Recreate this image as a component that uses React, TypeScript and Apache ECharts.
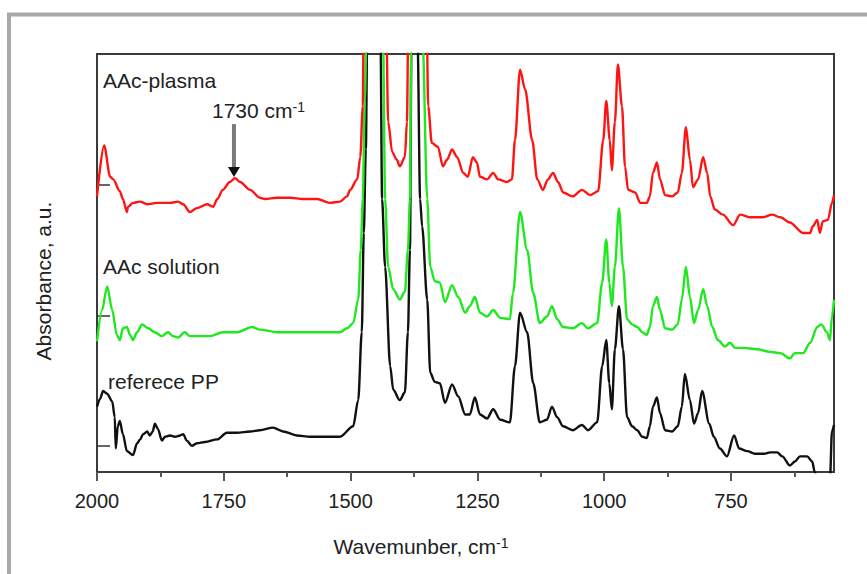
import React, { useEffect, useRef } from "react";
import * as echarts from "echarts";

// Tick positions (cm-1) and baseline ticks (a.u.)
const xMajorTicks = [2000, 1750, 1500, 1250, 1000, 750];
const xMinorTicks = [1875, 1625, 1375, 1125, 875, 625];
const baselineTicks = [0, 1, 2];
const xRange = [547, 2000];
const yRange = [-0.2, 3.0];

const seriesNames = ["AAc-plasma", "AAc solution", "referece PP"];
const seriesColors = ["#ff1414", "#1ee81e", "#111111"];
const peakMark = [1730, 2.05];

// [wavenumber cm-1, absorbance a.u. (offset stacked)]
const aacPlasma = [
  [2000, 1.91], [1986, 2.3], [1974, 2.06], [1968, 2.04], [1955, 1.95], [1949, 1.89], [1941, 1.79], [1939, 1.83],
  [1929, 1.86], [1915, 1.87], [1901, 1.85], [1882, 1.86], [1856, 1.86], [1840, 1.87], [1830, 1.85], [1817, 1.79],
  [1803, 1.82], [1783, 1.85], [1771, 1.83], [1763, 1.89], [1752, 1.96], [1738, 2.02], [1728, 2.05], [1718, 2.02],
  [1698, 1.96], [1679, 1.9], [1669, 1.89], [1645, 1.9], [1619, 1.9], [1594, 1.89], [1566, 1.89], [1541, 1.86],
  [1521, 1.87], [1507, 1.91], [1501, 1.96], [1487, 2.04], [1481, 2.21], [1476, 2.6], [1474, 3.3], [1452, 4.5],
  [1430, 3.3], [1426, 2.48], [1418, 2.25], [1409, 2.19], [1403, 2.14], [1393, 2.21], [1389, 2.48], [1386, 3.3],
  [1370, 4.3], [1350, 3.2], [1347, 2.6], [1340, 2.32], [1328, 2.29], [1318, 2.14], [1310, 2.19], [1300, 2.27],
  [1290, 2.21], [1278, 2.09], [1269, 2.06], [1259, 2.21], [1251, 2.17], [1245, 2.06], [1231, 2.04], [1219, 2.09],
  [1209, 2.04], [1192, 2.02], [1182, 2.04], [1176, 2.34], [1166, 2.88], [1156, 2.73], [1142, 2.34], [1132, 2.04],
  [1121, 1.96], [1111, 2.04], [1101, 2.09], [1091, 2.02], [1081, 1.94], [1062, 1.91], [1044, 1.96], [1028, 1.92],
  [1012, 1.95], [1002, 2.34], [996, 2.64], [989, 2.34], [985, 2.11], [979, 2.48], [973, 2.92], [965, 2.6],
  [959, 2.14], [953, 1.96], [939, 1.94], [929, 1.86], [916, 1.86], [910, 1.91], [904, 2.09], [896, 2.17],
  [890, 2.04], [880, 1.92], [866, 1.91], [855, 1.94], [847, 2.09], [839, 2.44], [831, 2.19], [825, 1.98],
  [815, 2.04], [805, 2.21], [797, 2.09], [791, 1.91], [782, 1.81], [766, 1.77], [746, 1.69], [732, 1.77],
  [713, 1.75], [687, 1.75], [669, 1.77], [653, 1.75], [634, 1.71], [608, 1.63], [594, 1.63], [589, 1.68],
  [580, 1.73], [575, 1.63], [569, 1.72], [559, 1.73], [551, 1.86], [547, 1.92],
];

const aacSolution = [
  [2000, 0.8], [1990, 1.04], [1980, 1.22], [1970, 1.04], [1961, 0.85], [1955, 0.81], [1949, 0.9], [1941, 0.91],
  [1935, 0.85], [1929, 0.81], [1921, 0.87], [1911, 0.93], [1899, 0.9], [1886, 0.87], [1872, 0.84], [1860, 0.87],
  [1850, 0.84], [1840, 0.83], [1827, 0.87], [1817, 0.84], [1797, 0.84], [1777, 0.84], [1752, 0.87], [1724, 0.87],
  [1694, 0.91], [1679, 0.89], [1645, 0.87], [1619, 0.87], [1580, 0.87], [1554, 0.87], [1521, 0.87], [1507, 0.9],
  [1495, 0.94], [1485, 1.12], [1480, 1.5], [1476, 1.89], [1472, 2.65], [1468, 3.3], [1452, 4.5], [1436, 3.1],
  [1432, 1.89], [1426, 1.37], [1416, 1.2], [1403, 1.12], [1393, 1.18], [1387, 1.5], [1383, 1.89], [1380, 3.3],
  [1370, 4.5], [1358, 3.1], [1349, 1.89], [1343, 1.37], [1334, 1.26], [1324, 1.25], [1314, 1.1], [1300, 1.23],
  [1288, 1.14], [1274, 1.02], [1265, 1.07], [1255, 1.14], [1245, 1.02], [1231, 0.99], [1219, 1.04], [1205, 0.98],
  [1186, 0.97], [1180, 1.17], [1166, 1.79], [1152, 1.5], [1140, 1.17], [1127, 0.94], [1113, 0.99], [1103, 1.07],
  [1093, 0.97], [1081, 0.91], [1062, 0.9], [1044, 0.94], [1032, 0.9], [1014, 0.94], [1004, 1.25], [996, 1.58],
  [990, 1.25], [985, 1.07], [979, 1.37], [971, 1.82], [963, 1.37], [955, 0.97], [945, 0.93], [935, 0.91],
  [925, 0.87], [916, 0.85], [910, 0.91], [904, 1.07], [896, 1.14], [890, 1.04], [880, 0.9], [866, 0.89],
  [855, 0.93], [847, 1.12], [839, 1.37], [831, 1.14], [823, 0.94], [815, 1.04], [805, 1.2], [797, 1.07],
  [787, 0.91], [776, 0.81], [762, 0.76], [752, 0.79], [742, 0.75], [726, 0.75], [699, 0.74], [673, 0.72],
  [653, 0.71], [634, 0.67], [624, 0.71], [608, 0.71], [594, 0.79], [580, 0.91], [572, 0.93], [561, 0.87],
  [555, 0.81], [551, 0.99], [547, 1.12],
];

const referencePP = [
  [2000, 0.3], [1994, 0.36], [1988, 0.42], [1980, 0.4], [1970, 0.34], [1965, 0.22], [1963, -0.02], [1959, 0.15],
  [1955, 0.19], [1949, 0.09], [1941, -0.04], [1929, -0.07], [1921, 0.02], [1915, 0.05], [1909, 0.09], [1901, 0.11],
  [1896, 0.08], [1890, 0.11], [1886, 0.17], [1880, 0.13], [1872, 0.04], [1866, 0.07], [1856, 0.08], [1846, 0.07],
  [1836, 0.08], [1830, 0.09], [1823, 0.04], [1813, 0.0], [1803, 0.02], [1787, 0.03], [1763, 0.05], [1744, 0.1],
  [1724, 0.1], [1698, 0.11], [1679, 0.12], [1653, 0.14], [1633, 0.11], [1606, 0.08], [1580, 0.07], [1554, 0.07],
  [1521, 0.07], [1495, 0.15], [1485, 0.35], [1478, 0.87], [1474, 1.63], [1470, 2.27], [1467, 3.2], [1452, 4.5],
  [1441, 3.1], [1438, 1.89], [1432, 1.37], [1422, 0.61], [1416, 0.43], [1403, 0.35], [1393, 0.41], [1387, 0.87],
  [1383, 1.5], [1380, 3.1], [1374, 4.2], [1368, 3.1], [1363, 1.89], [1359, 1.68], [1349, 1.12], [1343, 0.56],
  [1334, 0.49], [1324, 0.48], [1314, 0.33], [1300, 0.47], [1288, 0.38], [1274, 0.24], [1265, 0.24], [1255, 0.37],
  [1245, 0.24], [1231, 0.21], [1219, 0.28], [1205, 0.2], [1186, 0.18], [1176, 0.61], [1166, 1.02], [1152, 0.87],
  [1140, 0.48], [1127, 0.18], [1113, 0.2], [1103, 0.3], [1093, 0.22], [1081, 0.15], [1062, 0.12], [1044, 0.16],
  [1032, 0.12], [1014, 0.18], [1004, 0.61], [996, 0.81], [990, 0.48], [985, 0.28], [979, 0.74], [971, 1.07],
  [963, 0.74], [955, 0.22], [945, 0.15], [935, 0.12], [925, 0.07], [916, 0.06], [910, 0.15], [904, 0.3],
  [896, 0.37], [890, 0.25], [880, 0.12], [866, 0.11], [855, 0.15], [847, 0.3], [841, 0.55], [831, 0.35],
  [823, 0.17], [815, 0.25], [807, 0.42], [793, 0.17], [784, 0.07], [772, -0.02], [758, -0.08], [744, 0.08],
  [734, -0.02], [718, -0.04], [703, -0.06], [685, -0.06], [673, -0.05], [659, -0.05], [649, -0.08], [634, -0.15],
  [624, -0.12], [614, -0.08], [600, -0.08], [590, -0.12], [585, -0.2], [575, -0.34], [559, -0.34], [555, -0.26],
  [551, 0.11], [547, 0.16],
];

const FONT = "'Liberation Sans', Arial, Helvetica, sans-serif";
const TEXT = "#222222";

export default function App() {
  const ref = useRef<HTMLDivElement>(null);

  useEffect(() => {
    const chart = echarts.init(ref.current as HTMLDivElement, null, { renderer: "svg" });
    const axisColor = "#3a3a3a";
    const lineSeries = (name: string, data: number[][], color: string, z: number) => ({
      name,
      type: "line",
      data,
      showSymbol: false,
      symbol: "none",
      clip: true,
      smooth: 0.3,
      smoothMonotone: "x",
      z,
      lineStyle: { color, width: 2.4, join: "round" },
      emphasis: { disabled: true },
    });
    chart.setOption({
      animation: false,
      backgroundColor: "#ffffff",
      textStyle: { fontFamily: FONT },
      grid: {
        left: 97,
        right: 33,
        top: 54,
        bottom: 102,
        show: true,
        borderColor: axisColor,
        borderWidth: 2,
        backgroundColor: "#ffffff",
      },
      xAxis: [
        {
          type: "value",
          inverse: true,
          min: xRange[0],
          max: xRange[1],
          position: "bottom",
          axisLine: { show: true, onZero: false, lineStyle: { color: axisColor, width: 2 } },
          axisTick: {
            show: true,
            customValues: xMajorTicks,
            length: 9,
            lineStyle: { color: "#555", width: 2 },
          },
          axisLabel: {
            show: true,
            customValues: xMajorTicks,
            formatter: (v: number) => String(v),
            margin: 19,
            fontSize: 20,
            color: TEXT,
            fontFamily: FONT,
          },
          splitLine: { show: false },
        },
        {
          type: "value",
          inverse: true,
          min: xRange[0],
          max: xRange[1],
          position: "bottom",
          axisLine: { show: false, onZero: false },
          axisTick: {
            show: true,
            customValues: xMinorTicks,
            length: 5,
            lineStyle: { color: "#555", width: 2 },
          },
          axisLabel: { show: false },
          splitLine: { show: false },
        },
      ],
      yAxis: {
        type: "value",
        min: yRange[0],
        max: yRange[1],
        axisLine: { show: true, onZero: false, lineStyle: { color: axisColor, width: 2 } },
        axisTick: {
          show: true,
          inside: true,
          customValues: baselineTicks,
          length: 13,
          lineStyle: { color: "#333", width: 1.5 },
        },
        axisLabel: { show: false },
        splitLine: { show: false },
      },
      series: [
        lineSeries(seriesNames[2], referencePP, seriesColors[2], 3),
        lineSeries(seriesNames[1], aacSolution, seriesColors[1], 4),
        lineSeries(seriesNames[0], aacPlasma, seriesColors[0], 5),
      ],
    });

    const tip = chart.convertToPixel({ gridIndex: 0 }, peakMark) as number[];
    const ax = tip[0];
    const ay = tip[1] - 1;

    chart.setOption({
      graphic: [
        {
          type: "rect",
          shape: { x: 9, y: 14.5, width: 900, height: 620 },
          style: { fill: "none", stroke: "#a8a8a8", lineWidth: 4 },
          z: 1,
          silent: true,
        },
        {
          type: "text",
          x: 103,
          y: 80,
          style: { text: seriesNames[0], font: `21px ${FONT}`, fill: TEXT, align: "left", verticalAlign: "middle" },
          z: 10,
        },
        {
          type: "text",
          x: 103,
          y: 266,
          style: { text: seriesNames[1], font: `21px ${FONT}`, fill: TEXT, align: "left", verticalAlign: "middle" },
          z: 10,
        },
        {
          type: "text",
          x: 108,
          y: 381,
          style: { text: seriesNames[2], font: `21px ${FONT}`, fill: TEXT, align: "left", verticalAlign: "middle" },
          z: 10,
        },
        {
          type: "text",
          x: 212,
          y: 110,
          style: {
            text: "{a|1730 cm}{s|-1}",
            fill: TEXT,
            align: "left",
            verticalAlign: "middle",
            rich: {
              a: { fontSize: 21, fontFamily: FONT, fill: TEXT, verticalAlign: "bottom" },
              s: { fontSize: 14, fontFamily: FONT, fill: TEXT, verticalAlign: "top" },
            },
          },
          z: 10,
        },
        {
          type: "line",
          shape: { x1: ax, y1: ay - 53, x2: ax, y2: ay - 8 },
          style: { stroke: "#7a7a7a", lineWidth: 4 },
          z: 10,
        },
        {
          type: "polygon",
          shape: { points: [[ax - 6, ay - 10], [ax + 6, ay - 10], [ax, ay]] },
          style: { fill: "#111" },
          z: 10,
        },
        {
          type: "text",
          x: 421,
          y: 546,
          style: {
            text: "{a|Wavemunber, cm}{s|-1}",
            fill: TEXT,
            align: "center",
            verticalAlign: "middle",
            rich: {
              a: { fontSize: 21, fontFamily: FONT, fill: TEXT, verticalAlign: "bottom" },
              s: { fontSize: 14, fontFamily: FONT, fill: TEXT, verticalAlign: "top" },
            },
          },
          z: 10,
        },
        {
          type: "text",
          x: 43,
          y: 281,
          rotation: Math.PI / 2,
          style: {
            text: "Absorbance, a.u.",
            font: `21px ${FONT}`,
            fill: TEXT,
            align: "center",
            verticalAlign: "middle",
          },
          z: 10,
        },
      ],
    });

    return () => chart.dispose();
  }, []);

  return (
    <div
      ref={ref}
      style={{ position: "absolute", left: 0, top: 0, width: 867, height: 574 }}
    />
  );
}
